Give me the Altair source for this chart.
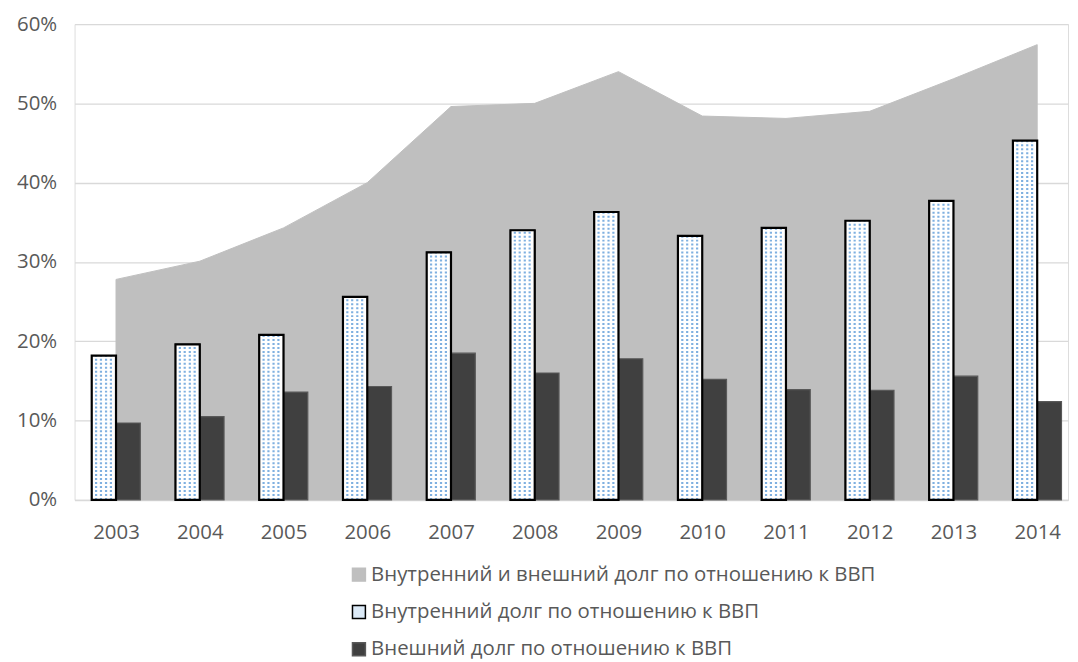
import altair as alt
import pandas as pd

years = [2003, 2004, 2005, 2006, 2007, 2008, 2009, 2010, 2011, 2012, 2013, 2014]
total = [27.8, 30.1, 34.3, 40.0, 49.6, 50.0, 54.0, 48.4, 48.1, 49.0, 53.1, 57.4]
internal = [18.2, 19.6, 20.8, 25.6, 31.2, 34.0, 36.3, 33.3, 34.3, 35.2, 37.7, 45.3]
external = [9.7, 10.5, 13.6, 14.3, 18.5, 16.0, 17.8, 15.2, 13.9, 13.8, 15.6, 12.4]
series_names = [
    "Внутренний и внешний долг по отношению к ВВП",
    "Внутренний долг по отношению к ВВП",
    "Внешний долг по отношению к ВВП",
]
y_ticks = [0, 10, 20, 30, 40, 50, 60]

BW = 0.29  # bar width in year units
FONT = "Open Sans"
TXT = "#595959"
FS = 20.5

rows = []
for i, y in enumerate(years):
    rows.append({"year": y, "value": total[i], "series": series_names[0], "side": 0})
    rows.append({"year": y, "value": internal[i], "series": series_names[1], "side": -1})
    rows.append({"year": y, "value": external[i], "series": series_names[2], "side": 0})
df = pd.DataFrame(rows)

dot_cols = [0.18, 0.38, 0.59, 0.79]
dots = pd.DataFrame(
    [{"year": y, "value": internal[i], "k": k} for i, y in enumerate(years) for k in dot_cols]
)

xscale = alt.Scale(domain=[2002.505, 2014.368], nice=False, zero=False)
yscale = alt.Scale(domain=[0, 60], nice=False)
color_scale = alt.Scale(domain=series_names, range=["#bfbfbf", "#dceaf7", "#404040"])
stroke_scale = alt.Scale(domain=series_names, range=["#bfbfbf", "#000000", "#595959"])

legend = alt.Legend(
    title=None, orient="none", legendX=276, legendY=544, direction="vertical",
    symbolType="square", symbolSize=169, symbolStrokeWidth=1.5, symbolOpacity=1,
    labelFont=FONT, labelFontSize=FS, labelColor=TXT, rowPadding=16.5, labelOffset=2,
    labelLimit=800, padding=0,
)

x_axis = alt.Axis(
    values=years, format="d", title=None, grid=False, ticks=False,
    domainColor="#d9d9d9", domainWidth=1.5, labelFont=FONT, labelFontSize=FS,
    labelColor=TXT, labelPadding=23, labelFlush=False,
)
y_axis = alt.Axis(
    values=y_ticks, labelExpr="datum.value + '%'", title=None, domain=False, ticks=False,
    gridColor="#d9d9d9", gridWidth=1.3, labelFont=FONT, labelFontSize=FS,
    labelColor=TXT, labelPadding=18,
)

base = alt.Chart(df)

area = base.transform_filter(
    alt.datum.series == series_names[0]
).mark_area(opacity=1).encode(
    x=alt.X("year:Q", scale=xscale, axis=x_axis),
    y=alt.Y("value:Q", scale=yscale, axis=y_axis),
    color=alt.Color("series:N", scale=color_scale, legend=legend),
    stroke=alt.Stroke("series:N", scale=stroke_scale, legend=legend),
)

bars = base.transform_filter(
    alt.datum.series != series_names[0]
).transform_calculate(
    x0=f"datum.year + datum.side * {BW}",
    x1=f"datum.year + datum.side * {BW} + {BW}",
    zero="0",
).mark_bar(strokeWidth=1.2, opacity=1).encode(
    x=alt.X("x0:Q", scale=xscale),
    x2="x1:Q",
    y=alt.Y("value:Q", scale=yscale),
    y2="zero:Q",
    color=alt.Color("series:N", scale=color_scale, legend=legend),
    stroke=alt.Stroke("series:N", scale=stroke_scale, legend=legend),
)

# white background inside the internal-debt bars (legend keeps a light blue swatch)
white_fill = base.transform_filter(
    alt.datum.series == series_names[1]
).transform_calculate(
    x0=f"datum.year - {BW}",
    x1="datum.year",
    zero="0",
).mark_bar(fill="#ffffff", strokeWidth=0).encode(
    x=alt.X("x0:Q", scale=xscale),
    x2="x1:Q",
    y=alt.Y("value:Q", scale=yscale),
    y2="zero:Q",
)

dot_rules = alt.Chart(dots).transform_calculate(
    xd=f"datum.year - {BW} + datum.k * {BW}",
    zero="0",
).mark_rule(color="#7fb0e0", strokeWidth=2.2, strokeDash=[2, 2]).encode(
    x=alt.X("xd:Q", scale=xscale),
    y=alt.Y("zero:Q", scale=yscale),
    y2="value:Q",
)

outline = base.transform_filter(
    alt.datum.series == series_names[1]
).transform_calculate(
    x0=f"datum.year - {BW}",
    x1="datum.year",
    zero="0",
).mark_bar(fillOpacity=0, stroke="#000000", strokeWidth=2.2).encode(
    x=alt.X("x0:Q", scale=xscale),
    x2="x1:Q",
    y=alt.Y("value:Q", scale=yscale),
    y2="zero:Q",
)

chart = alt.layer(area, bars, white_fill, dot_rules, outline).properties(
    width=1000, height=479,
    padding={"left": 67, "top": 14, "right": 2, "bottom": 161},
    autosize=alt.AutoSizeParams(type="none"),
).configure_view(stroke=None).configure(background="white")

chart.save("out.html", embed_options={"renderer": "svg", "actions": False})
